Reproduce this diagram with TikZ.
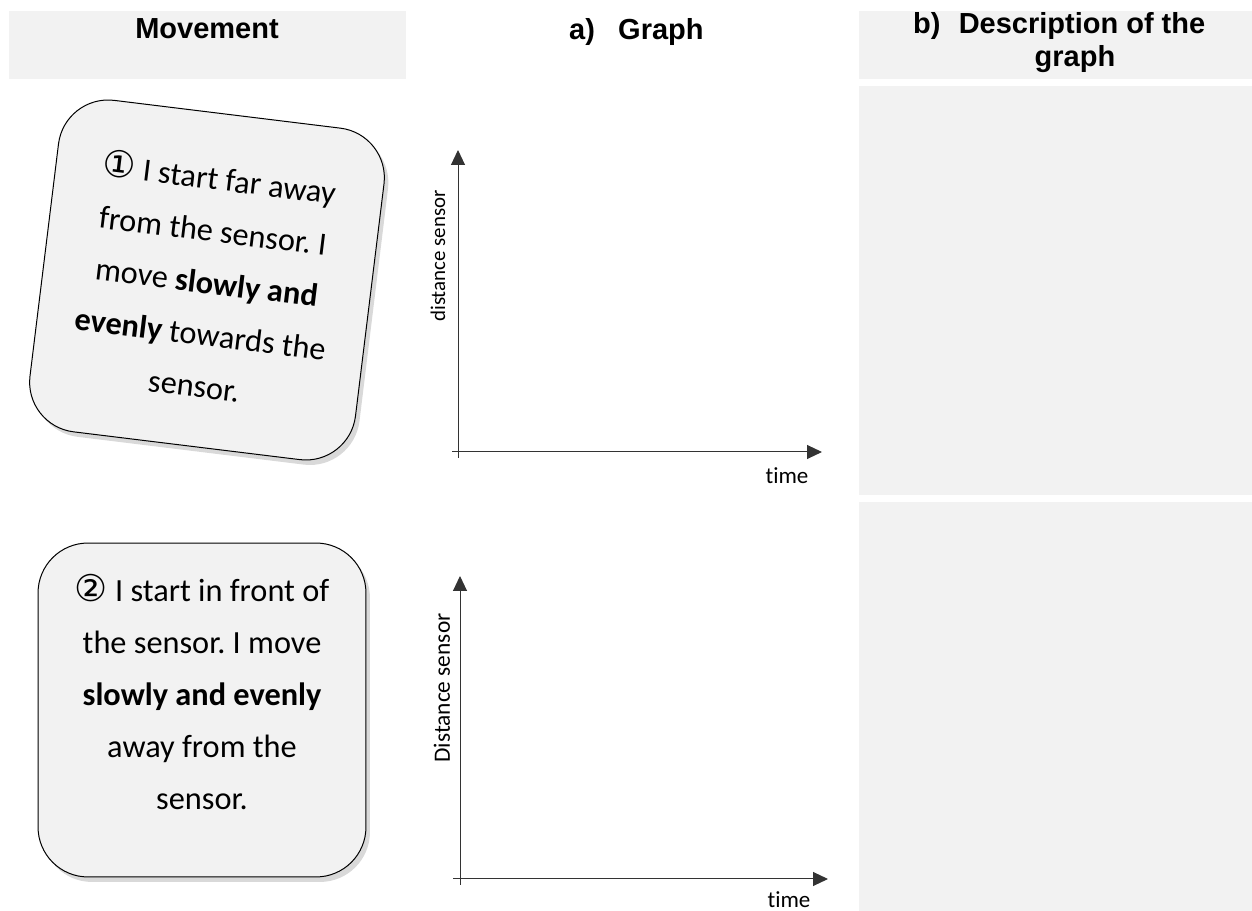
\documentclass[tikz,border=0pt]{standalone}
\usepackage{fontspec}
\usepackage{tikz}
\usetikzlibrary{arrows.meta,shadows,positioning}
\setmainfont{Carlito}[Ligatures=NoCommon]
\newfontfamily\headfont{Liberation Sans}
\newfontfamily\symfont{DejaVu Sans}
\definecolor{panel}{HTML}{F2F2F2}
\definecolor{axisgray}{HTML}{333333}
\frenchspacing

\tikzset{
  panelbox/.style={fill=panel, draw=none},
  headtext/.style={font=\headfont\bfseries\fontsize{16.5}{20}\selectfont},
  card/.style={draw=black, line width=0.02cm, fill=panel, rounded corners=1cm,
    minimum width=6.56cm, minimum height=6.68cm,
    drop shadow={shadow xshift=0.08cm, shadow yshift=-0.1cm, opacity=0.3}},
  cardtext/.style={align=center, font=\fontsize{18.4}{29.6}\selectfont},
  axis/.style={axisgray, line width=0.02cm, -{Triangle[length=0.3cm,width=0.28cm]}},
  axislabel/.style={inner sep=0pt}
}
\newcommand{\circnum}[1]{{\symfont\fontsize{21}{21}\selectfont #1}}

\begin{document}
\begin{tikzpicture}[x=0.02cm, y=-0.02cm]
\useasboundingbox (0,0) rectangle (1252,911);

% grey panels
\fill[panelbox] (9,11) rectangle (406,79);
\fill[panelbox] (859,11) rectangle (1252,79);
\fill[panelbox] (859,86) rectangle (1252,495);
\fill[panelbox] (859,502) rectangle (1252,911);

% headers
\node[headtext, anchor=base] (hmove) at (207,39) {Movement};
\node[headtext, anchor=base west] (ha) at (563,40) {a)};
\node[headtext, anchor=base west] (hgraph) at (612,40) {Graph};
\node[headtext, anchor=base west] (hb) at (907,34) {b)};
\node[headtext, anchor=base] (hdesc) at (1082,34) {Description of the};
\node[headtext, anchor=base] (hdesc2) at (1075,67) {graph};

% card 1
\node[card, rotate=-7] (card1) at (207,280) {};
\node[cardtext, rotate=-7] (txt1) at (card1.center)
  {\circnum{①} I start far away\\ from the sensor. I\\ move \textbf{slowly and}\\
   \textbf{evenly} towards the\\ sensor.};

% card 2
\node[card] (card2) at (202,710) {};
\node[cardtext] (txt2) at ([yshift=0.36cm]card2.center)
  {\circnum{②} I start in front of\\ the sensor. I move\\ \textbf{slowly and evenly}\\
   away from the\\ sensor.};

% graph 1
\coordinate (xs1) at (452,452);
\coordinate (xe1) at (822,452);
\coordinate (ys1) at (458,458);
\coordinate (ye1) at (458,150);
\draw[axis] (xs1) -- (xe1);
\draw[axis] (ys1) -- (ye1);
\node[axislabel, rotate=90, font=\fontsize{11.9}{14}\selectfont] (ylab1) at (438,256) {distance sensor};
\node[axislabel, font=\fontsize{13.1}{15}\selectfont] (xlab1) at (787,476) {time};

% graph 2
\coordinate (xs2) at (453,879);
\coordinate (xe2) at (828,879);
\coordinate (ys2) at (460,885);
\coordinate (ye2) at (460,576);
\draw[axis] (xs2) -- (xe2);
\draw[axis] (ys2) -- (ye2);
\node[axislabel, rotate=90, font=\fontsize{13.3}{15}\selectfont] (ylab2) at (442,688) {Distance sensor};
\node[axislabel, font=\fontsize{13.1}{15}\selectfont] (xlab2) at (789,900) {time};
\end{tikzpicture}
\end{document}
